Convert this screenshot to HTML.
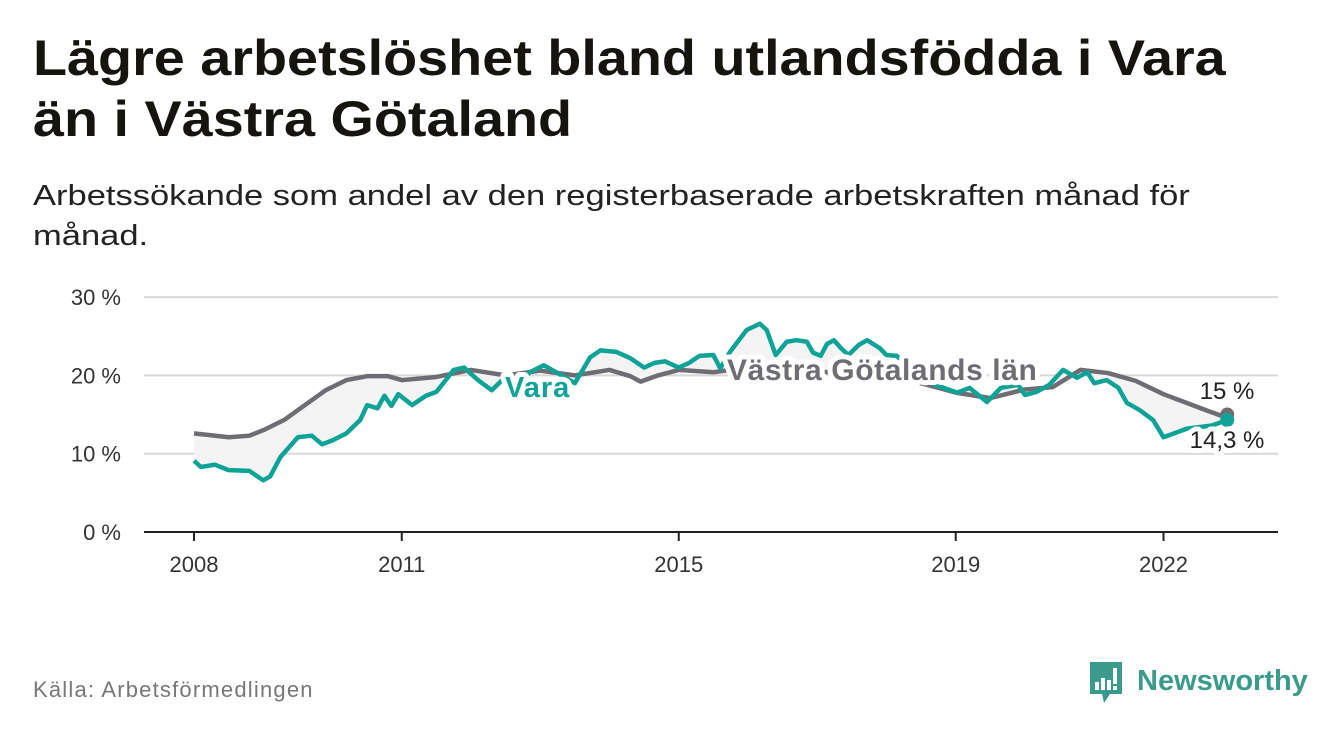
<!DOCTYPE html>
<html><head><meta charset="utf-8">
<style>
body{margin:0;background:#fff;width:1340px;height:734px;overflow:hidden;font-family:"Liberation Sans",sans-serif;}
h1{position:absolute;left:33px;top:28px;margin:0;font-size:50px;line-height:61px;font-weight:bold;color:#15140f;transform:scaleX(1.115);transform-origin:0 0;white-space:nowrap;}
.sub{position:absolute;left:33px;top:176px;font-size:29px;line-height:40px;color:#222;transform:scaleX(1.19);transform-origin:0 0;white-space:nowrap;}
.src{position:absolute;left:33px;top:677px;font-size:22px;color:#777;letter-spacing:1.2px;}
.logo{position:absolute;left:1088px;top:660px;}
</style></head><body>
<h1>Lägre arbetslöshet bland utlandsfödda i Vara<br>än i Västra Götaland</h1>
<div class="sub">Arbetssökande som andel av den registerbaserade arbetskraften månad för<br>månad.</div>
<div class="src">Källa: Arbetsförmedlingen</div>
<svg class="logo" width="230" height="50">
<path d="M2 2h32v32h-12l-6 9l-2-9h-12z" fill="#3a9a8c"/>
<rect x="7" y="22" width="4" height="8" fill="#fff"/><rect x="13" y="18" width="4" height="12" fill="#fff"/><rect x="19" y="20" width="4" height="10" fill="#fff"/><rect x="25" y="8" width="4" height="16" fill="#fff"/><rect x="25" y="26" width="4" height="4" fill="#fff"/>
<text x="49" y="30" font-size="29" font-weight="bold" fill="#3a9a8c" font-family="Liberation Sans, sans-serif">Newsworthy</text>
</svg>
<svg id="chart" width="1340" height="734" style="position:absolute;left:0;top:0"></svg>
<script>
const yTicks=[0,10,20,30];
const xTicks=[2008,2011,2015,2019,2022];
const varaYears=[2008.0,2008.1,2008.3,2008.5,2008.8,2009.0,2009.1,2009.25,2009.5,2009.7,2009.85,2010.0,2010.2,2010.4,2010.5,2010.65,2010.75,2010.85,2010.95,2011.15,2011.35,2011.5,2011.6,2011.75,2011.9,2012.1,2012.3,2012.45,2012.65,2012.85,2013.05,2013.25,2013.5,2013.72,2013.87,2014.1,2014.3,2014.5,2014.65,2014.8,2015.0,2015.15,2015.3,2015.5,2015.6,2015.74,2015.98,2016.17,2016.27,2016.4,2016.56,2016.7,2016.85,2016.94,2017.05,2017.14,2017.24,2017.34,2017.45,2017.6,2017.72,2017.9,2018.0,2018.15,2018.4,2018.7,2019.02,2019.2,2019.45,2019.65,2019.9,2020.0,2020.17,2020.35,2020.55,2020.75,2020.9,2021.0,2021.18,2021.35,2021.47,2021.65,2021.85,2022.0,2022.34,2022.7,2022.92];
const varaValues=[9.1,8.3,8.6,7.9,7.8,6.6,7.1,9.6,12.1,12.3,11.2,11.7,12.6,14.3,16.2,15.8,17.4,16.1,17.6,16.2,17.4,17.9,19.0,20.7,21.0,19.4,18.1,19.4,18.8,20.4,21.3,20.3,19.0,22.3,23.2,23.0,22.2,21.0,21.6,21.8,21.0,21.6,22.5,22.6,20.9,23.0,25.8,26.6,25.8,22.6,24.3,24.5,24.3,22.9,22.5,24.0,24.5,23.5,22.6,23.9,24.5,23.5,22.6,22.5,20.0,18.8,17.8,18.4,16.6,18.4,18.8,17.5,17.9,18.8,20.7,19.7,20.4,19.0,19.4,18.4,16.5,15.6,14.3,12.1,13.2,13.6,14.3];
const vgYears=[2008.0,2008.5,2008.8,2009.0,2009.3,2009.6,2009.9,2010.2,2010.5,2010.8,2011.0,2011.5,2012.0,2012.5,2013.0,2013.5,2014.0,2014.3,2014.45,2014.7,2015.0,2015.5,2016.0,2016.5,2017.0,2017.5,2018.0,2018.5,2019.0,2019.5,2020.0,2020.4,2020.8,2021.2,2021.6,2022.0,2022.3,2022.6,2022.85,2022.92];
const vgValues=[12.6,12.1,12.3,13.0,14.3,16.2,18.1,19.4,19.9,19.9,19.4,19.8,20.7,20.0,20.6,20.0,20.7,19.9,19.2,20.0,20.7,20.4,21.0,21.0,20.5,20.2,19.8,19.0,17.8,17.1,18.2,18.5,20.7,20.3,19.3,17.6,16.6,15.6,14.8,15.0];

const svg=document.getElementById('chart');
const NS='http://www.w3.org/2000/svg';
const X0=144,X1=1278;
const xs=y=>194+(y-2008)*69.25;
const ys=v=>532-v*7.83;
function mk(tag,attrs){const e=document.createElementNS(NS,tag);for(const k in attrs)e.setAttribute(k,attrs[k]);svg.appendChild(e);return e;}
yTicks.forEach(t=>{
  const l=mk('line',{x1:X0,x2:X1,y1:ys(t),y2:ys(t),stroke:t===0?'#222':'#d8d8d8','stroke-width':2});
  
  
  const tx=mk('text',{x:121,y:ys(t)+8,'text-anchor':'end','font-size':22,fill:'#333'});
  tx.textContent=t+' %';
  
  
});
xTicks.forEach(t=>{
  const l=mk('line',{x1:xs(t),x2:xs(t),y1:532,y2:541,stroke:'#222','stroke-width':2});
  
  
  const tx=mk('text',{x:xs(t),y:572,'text-anchor':'middle','font-size':22,fill:'#333'});
  tx.textContent=t;
  
  
});
let a='M'+varaYears.map((y,i)=>xs(y)+','+ys(varaValues[i])).join('L');
for(let i=vgYears.length-1;i>=0;i--)a+='L'+xs(vgYears[i])+','+ys(vgValues[i]);
const area=mk('path',{d:a+'Z',fill:'#f4f4f4'});


function line(ys_,vs,col,name){
  const p=mk('path',{d:'M'+ys_.map((y,i)=>xs(y)+','+ys(vs[i])).join('L'),fill:'none',stroke:col,'stroke-width':4.5,'stroke-linejoin':'round'});
  
  
}
line(vgYears,vgValues,'#6f6d74','vastra-gotaland-line');
line(varaYears,varaValues,'#0fa398','vara-line');
const d1=mk('circle',{cx:xs(vgYears[vgYears.length-1]),cy:ys(vgValues[vgValues.length-1]),r:7,fill:'#6f6d74'});


const d2=mk('circle',{cx:xs(varaYears[varaYears.length-1]),cy:ys(varaValues[varaValues.length-1]),r:7,fill:'#0fa398'});


function lab(x,y,t,size,col,w,name,anchor,ls){
  const e=mk('text',{x:x,y:y,'font-size':size,'font-weight':w,fill:col,stroke:'#fff','stroke-width':10,'paint-order':'stroke','stroke-linejoin':'round','text-anchor':anchor||'start','letter-spacing':ls||0});
  e.textContent=t;
  
  
}
lab(505,397,'Vara',29,'#0fa398','bold','vara-label','start',1);
lab(727,380,'Västra Götalands län',30,'#6f6d74','bold','vastra-gotaland-label','start',0.6);
lab(1227,399,'15 %',24,'#222','normal','vastra-gotaland-end-value','middle');
lab(1227,448,'14,3 %',24,'#222','normal','vara-end-value','middle');
</script>
</body></html>
